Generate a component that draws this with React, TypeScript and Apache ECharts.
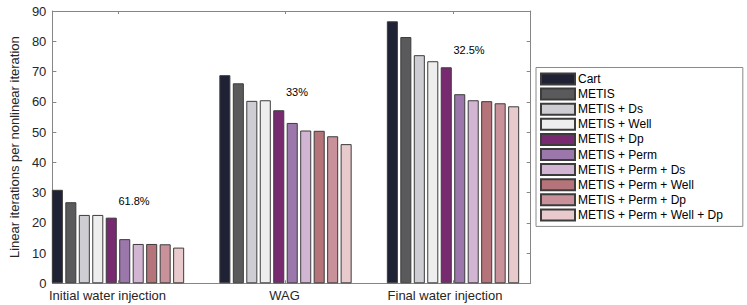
import React, { useEffect, useRef } from "react";
import * as echarts from "echarts";

const categories = ["Initial water injection", "WAG", "Final water injection"];
const seriesNames = [
  "Cart",
  "METIS",
  "METIS + Ds",
  "METIS + Well",
  "METIS + Dp",
  "METIS + Perm",
  "METIS + Perm + Ds",
  "METIS + Perm + Well",
  "METIS + Perm + Dp",
  "METIS + Perm + Well + Dp",
];
const seriesColors = [
  "#1f2135",
  "#5a5a5c",
  "#cdcdd3",
  "#eeeeee",
  "#782a70",
  "#9b77ab",
  "#d1b5d2",
  "#b47479",
  "#c9929a",
  "#e8c9cc",
];
// values per series: [Initial water injection, WAG, Final water injection]
const cartValues = [30.9, 68.8, 86.6];
const metisValues = [26.8, 66.1, 81.4];
const metisDsValues = [22.6, 60.3, 75.4];
const metisWellValues = [22.6, 60.5, 73.4];
const metisDpValues = [21.7, 57.2, 71.4];
const metisPermValues = [14.6, 53.0, 62.5];
const metisPermDsValues = [13.0, 50.5, 60.5];
const metisPermWellValues = [13.0, 50.4, 60.2];
const metisPermDpValues = [12.9, 48.6, 59.5];
const metisPermWellDpValues = [11.8, 46.0, 58.5];
const seriesValues = [
  cartValues,
  metisValues,
  metisDsValues,
  metisWellValues,
  metisDpValues,
  metisPermValues,
  metisPermDsValues,
  metisPermWellValues,
  metisPermDpValues,
  metisPermWellDpValues,
];
const reductionLabels = ["61.8%", "33%", "32.5%"];
const yTicks = { min: 0, max: 90, interval: 10 };

const FONT = "'Liberation Sans', Arial, Helvetica, sans-serif";
const AXIS_COLOR = "#868686";
const TEXT_COLOR = "#262626";

export default function App() {
  const ref = useRef<HTMLDivElement>(null);
  useEffect(() => {
    if (!ref.current) return;
    const chart = echarts.init(ref.current, undefined, { renderer: "svg" });
    const labelShift = [21, 2, 16];
    const rich: Record<string, any> = {};
    categories.forEach((_, i) => {
      rich["l" + i] = {
        fontSize: 13,
        fontFamily: FONT,
        color: TEXT_COLOR,
        padding: [0, labelShift[i], 0, 0],
      };
    });
    const option: any = {
      animation: false,
      backgroundColor: "#ffffff",
      textStyle: { fontFamily: FONT },
      grid: [
        { left: 34.25, width: 502.5, top: 11, height: 272.3, containLabel: false },
        { left: 41.3, width: 489.4, top: 11, height: 272.3, containLabel: false },
      ],
      xAxis: [
        {
          type: "category",
          gridIndex: 0,
          data: categories,
          axisLine: { show: false },
          axisTick: {
            show: true,
            inside: true,
            alignWithLabel: true,
            length: 3,
            lineStyle: { color: AXIS_COLOR },
          },
          axisLabel: {
            margin: 6,
            formatter: (v: string, i: number) => `{l${i}|${v}}`,
            rich,
          },
        },
        {
          type: "category",
          gridIndex: 0,
          position: "top",
          data: categories,
          axisLine: { show: false },
          axisTick: {
            show: true,
            inside: true,
            alignWithLabel: true,
            length: 3,
            lineStyle: { color: AXIS_COLOR },
          },
          axisLabel: { show: false },
        },
        {
          type: "value",
          gridIndex: 1,
          min: 0,
          max: 1,
          axisLine: { show: true, onZero: false, lineStyle: { color: AXIS_COLOR, width: 1 } },
          axisTick: { show: false },
          axisLabel: { show: false },
          splitLine: { show: false },
        },
        {
          type: "value",
          gridIndex: 1,
          position: "top",
          min: 0,
          max: 1,
          axisLine: { show: true, onZero: false, lineStyle: { color: AXIS_COLOR, width: 1 } },
          axisTick: { show: false },
          axisLabel: { show: false },
          splitLine: { show: false },
        },
      ],
      yAxis: [
        {
          type: "value",
          gridIndex: 0,
          min: yTicks.min,
          max: yTicks.max,
          interval: yTicks.interval,
          show: false,
        },
        {
          type: "value",
          gridIndex: 1,
          min: yTicks.min,
          max: yTicks.max,
          interval: yTicks.interval,
          name: "Linear iterations per nonlinear iteration",
          nameLocation: "middle",
          nameGap: 28,
          nameTextStyle: { fontSize: 13, fontFamily: FONT, color: TEXT_COLOR },
          axisLine: { show: true, onZero: false, lineStyle: { color: AXIS_COLOR, width: 1 } },
          axisTick: { show: true, inside: true, length: 4, lineStyle: { color: AXIS_COLOR } },
          axisLabel: { margin: 6, fontSize: 13, fontFamily: FONT, color: TEXT_COLOR },
          splitLine: { show: false },
        },
        {
          type: "value",
          gridIndex: 1,
          position: "right",
          min: yTicks.min,
          max: yTicks.max,
          interval: yTicks.interval,
          axisLine: { show: true, onZero: false, lineStyle: { color: AXIS_COLOR, width: 1 } },
          axisTick: { show: true, inside: true, length: 4, lineStyle: { color: AXIS_COLOR } },
          axisLabel: { show: false },
          splitLine: { show: false },
        },
      ],
      legend: {
        orient: "vertical",
        left: 536,
        top: 67.5,
        padding: [5, 20, 5, 4],
        itemWidth: 34,
        itemHeight: 11,
        itemGap: 2.1,
        icon: "rect",
        borderColor: "#8a8a8a",
        borderWidth: 1,
        backgroundColor: "#ffffff",
        textStyle: { fontSize: 12, fontFamily: FONT, color: "#000000", padding: [0, 0, 0, -2] },
        data: seriesNames,
      },
      series: seriesNames.map((name, i) => ({
        name,
        type: "bar",
        xAxisIndex: 0,
        yAxisIndex: 0,
        data: seriesValues[i],
        barCategoryGap: "21%",
        barGap: "22%",
        itemStyle: { color: seriesColors[i], borderColor: "#3c3c3c", borderWidth: 1 },
        emphasis: { disabled: true },
      })),
      graphic: [
        { type: "text", x: 134, y: 200.7, style: { text: reductionLabels[0], fontSize: 11, fontFamily: FONT, fill: "#000", align: "center", verticalAlign: "middle" } },
        { type: "text", x: 297, y: 92.3, style: { text: reductionLabels[1], fontSize: 11, fontFamily: FONT, fill: "#000", align: "center", verticalAlign: "middle" } },
        { type: "text", x: 469, y: 50, style: { text: reductionLabels[2], fontSize: 11, fontFamily: FONT, fill: "#000", align: "center", verticalAlign: "middle" } },
      ],
    };
    chart.setOption(option);
    return () => chart.dispose();
  }, []);
  return <div ref={ref} style={{ width: 747, height: 305, position: "absolute", left: 0, top: 0 }} />;
}
